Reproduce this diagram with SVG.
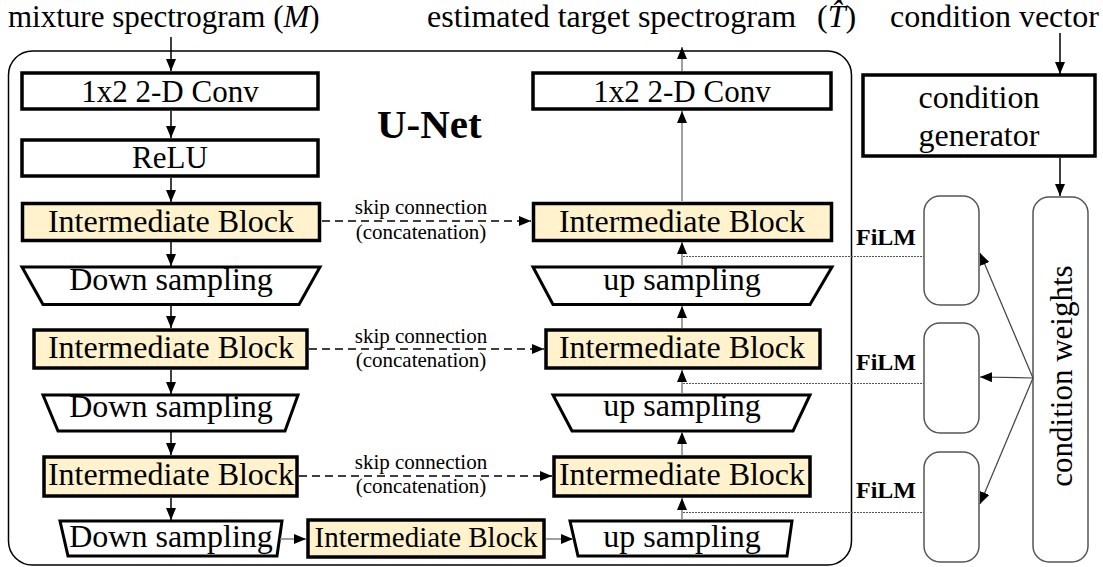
<svg xmlns="http://www.w3.org/2000/svg" width="1103" height="567" viewBox="0 0 1103 567">
<defs>
<style>
text{font-family:"Liberation Serif","Times New Roman",serif;fill:#000}
.lbl{font-size:32px;text-anchor:middle}
.top{font-size:31px}
.ib{fill:#FFF2CC;stroke:#000;stroke-width:3.5}
.box{fill:#fff;stroke:#000;stroke-width:3.5}
.trap{fill:#fff;stroke:#000;stroke-width:3;stroke-linejoin:miter}
.blk{stroke:#000;stroke-width:1.5;fill:none}
.gry{stroke:#808080;stroke-width:1.5;fill:none}
.dash{stroke:#000;stroke-width:1.5;fill:none;stroke-dasharray:8 5}
.dot{stroke:#555;stroke-width:1;fill:none;stroke-dasharray:2 1}
.thin{stroke:#444;stroke-width:1.2;fill:none}
.film{fill:#fff;stroke:#555;stroke-width:1.5}
.skip{font-size:21px;text-anchor:middle}
.fl{font-size:24px;font-weight:bold}
</style>
<marker id="ah" markerUnits="userSpaceOnUse" markerWidth="13" markerHeight="11" refX="12" refY="5" orient="auto">
<path d="M0,0 L12,5 L0,10 Z" fill="#000"/>
</marker>
</defs>

<g id="top-labels">
<text class="top" x="8" y="27" style="font-size:31px">mixture spectrogram (<tspan font-style="italic">M</tspan>)</text>
<text class="top" x="427" y="27" style="font-size:32px">estimated target spectrogram <tspan x="817">(</tspan><tspan font-style="italic">T&#x302;</tspan>)</text>
<text class="top" x="890" y="27" style="font-size:32px">condition vector</text>
</g>

<g id="unet">
<rect x="8.5" y="51" width="843" height="514" rx="24" fill="none" stroke="#000" stroke-width="1.5"/>
<text x="377" y="138" style="font-size:41px;font-weight:bold">U-Net</text>
</g>

<g id="conv-l"><rect class="box" x="22" y="73" width="296" height="36"/><text class="lbl" x="170" y="102" style="font-size:31px">1x2 2-D Conv</text></g>
<g id="relu"><rect class="box" x="22" y="140" width="296" height="36"/><text class="lbl" x="170" y="168" style="font-size:31px">ReLU</text></g>
<g id="ib-l1"><rect class="ib" x="22.5" y="203.5" width="297" height="37"/><text class="lbl" x="171" y="232">Intermediate Block</text></g>
<g id="ds-l1"><polygon class="trap" points="22,267 320,267 299,304.5 43,304.5"/><text class="lbl" x="171" y="290">Down sampling</text></g>
<g id="ib-l2"><rect class="ib" x="34" y="330" width="273" height="38"/><text class="lbl" x="171" y="358">Intermediate Block</text></g>
<g id="ds-l2"><polygon class="trap" points="43,395 298,395 285,431 58,431"/><text class="lbl" x="171" y="417">Down sampling</text></g>
<g id="ib-l3"><rect class="ib" x="44" y="457" width="253" height="39"/><text class="lbl" x="171" y="485">Intermediate Block</text></g>
<g id="ds-l3"><polygon class="trap" points="60,521 282,521 277,556 68,556"/><text class="lbl" x="171" y="547">Down sampling</text></g>

<g id="ib-mid"><rect class="ib" x="308" y="520" width="236" height="37"/><text class="lbl" x="426" y="547" style="font-size:29px">Intermediate Block</text></g>

<g id="conv-r"><rect class="box" x="533" y="73" width="298" height="36"/><text class="lbl" x="682" y="102" style="font-size:31px">1x2 2-D Conv</text></g>
<g id="ib-r1"><rect class="ib" x="533.5" y="203.5" width="298" height="37"/><text class="lbl" x="682" y="232">Intermediate Block</text></g>
<g id="us-r1"><polygon class="trap" points="533,267 832,267 810,304.5 553,304.5"/><text class="lbl" x="682" y="290">up sampling</text></g>
<g id="ib-r2"><rect class="ib" x="546" y="330" width="274" height="38"/><text class="lbl" x="682" y="358">Intermediate Block</text></g>
<g id="us-r2"><polygon class="trap" points="553,395 810,395 793,431 572,431"/><text class="lbl" x="682" y="416">up sampling</text></g>
<g id="ib-r3"><rect class="ib" x="554" y="457" width="256" height="39"/><text class="lbl" x="682" y="485">Intermediate Block</text></g>
<g id="us-r3"><polygon class="trap" points="570,521 792,521 787,556 578,556"/><text class="lbl" x="682" y="547">up sampling</text></g>

<g id="cond-gen"><rect class="box" x="863" y="75" width="232" height="81"/><text class="lbl" x="979" y="108">condition</text><text class="lbl" x="979" y="146">generator</text></g>

<g id="film1"><rect class="film" x="924" y="196" width="55" height="109" rx="16"/></g>
<g id="film2"><rect class="film" x="924" y="323" width="55" height="110" rx="16"/></g>
<g id="film3"><rect class="film" x="924" y="452" width="55" height="110" rx="16"/></g>
<g id="cond-weights"><rect class="film" x="1033" y="197" width="55" height="365" rx="16"/><text transform="translate(1072,376) rotate(-90)" style="font-size:31px;text-anchor:middle">condition weights</text></g>

<g id="film-labels">
<text class="fl" x="856" y="245">FiLM</text>
<text class="fl" x="856" y="370">FiLM</text>
<text class="fl" x="856" y="498">FiLM</text>
</g>

<g id="skip-labels">
<text class="skip" x="421" y="214">skip connection</text>
<text class="skip" x="421" y="239">(concatenation)</text>
<text class="skip" x="421" y="343">skip connection</text>
<text class="skip" x="421" y="367">(concatenation)</text>
<text class="skip" x="421" y="469">skip connection</text>
<text class="skip" x="421" y="493">(concatenation)</text>
</g>

<g id="connectors">
<line class="blk" x1="171" y1="37" x2="171" y2="71" marker-end="url(#ah)"/>
<line class="blk" x1="171" y1="111" x2="171" y2="138" marker-end="url(#ah)"/>
<line class="blk" x1="171" y1="178" x2="171" y2="202" marker-end="url(#ah)"/>
<line class="blk" x1="171" y1="242" x2="171" y2="266" marker-end="url(#ah)"/>
<line class="blk" x1="171" y1="305" x2="171" y2="328" marker-end="url(#ah)"/>
<line class="blk" x1="171" y1="370" x2="171" y2="394" marker-end="url(#ah)"/>
<line class="blk" x1="171" y1="432" x2="171" y2="455" marker-end="url(#ah)"/>
<line class="blk" x1="171" y1="498" x2="171" y2="520" marker-end="url(#ah)"/>
<line class="gry" x1="280" y1="539" x2="306" y2="539" marker-end="url(#ah)"/>
<line class="gry" x1="546" y1="539" x2="573" y2="539" marker-end="url(#ah)"/>
<line class="gry" x1="682" y1="520" x2="682" y2="498" marker-end="url(#ah)"/>
<line class="gry" x1="682" y1="455" x2="682" y2="432" marker-end="url(#ah)"/>
<line class="gry" x1="682" y1="394" x2="682" y2="370" marker-end="url(#ah)"/>
<line class="gry" x1="682" y1="328" x2="682" y2="306" marker-end="url(#ah)"/>
<line class="gry" x1="682" y1="266" x2="682" y2="242" marker-end="url(#ah)"/>
<line class="gry" x1="682" y1="201" x2="682" y2="111" marker-end="url(#ah)"/>
<line class="gry" x1="682" y1="71" x2="682" y2="47" marker-end="url(#ah)"/>
<line class="dash" x1="322" y1="221" x2="531" y2="221" marker-end="url(#ah)"/>
<line class="dash" x1="309" y1="349" x2="544" y2="349" marker-end="url(#ah)"/>
<line class="dash" x1="299" y1="476" x2="552" y2="476" marker-end="url(#ah)"/>
<line class="dot" x1="683" y1="256.5" x2="924" y2="256.5"/>
<line class="dot" x1="683" y1="383.5" x2="924" y2="383.5"/>
<line class="dot" x1="683" y1="512.5" x2="924" y2="512.5"/>
<line class="blk" x1="1060" y1="33" x2="1060" y2="74" marker-end="url(#ah)"/>
<line class="blk" x1="1060" y1="158" x2="1060" y2="196" marker-end="url(#ah)"/>
<line class="thin" x1="1033" y1="378" x2="980" y2="253" marker-end="url(#ah)"/>
<line class="thin" x1="1033" y1="378" x2="980" y2="377" marker-end="url(#ah)"/>
<line class="thin" x1="1033" y1="378" x2="980" y2="504" marker-end="url(#ah)"/>
</g>
</svg>
